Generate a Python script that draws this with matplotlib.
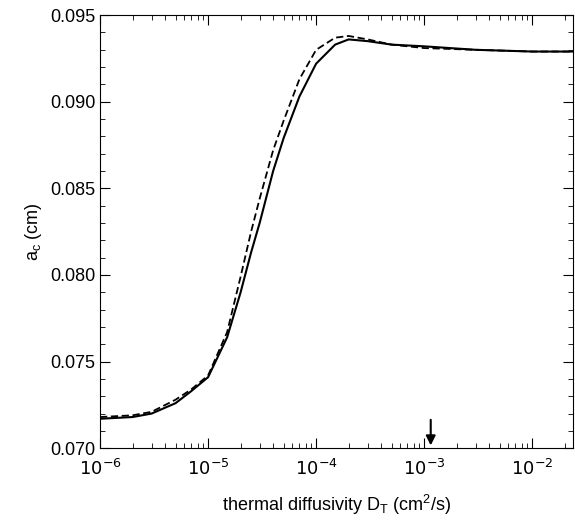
import numpy as np
import matplotlib.pyplot as plt
from matplotlib.ticker import LogLocator, NullFormatter, MultipleLocator, FixedFormatter

plt.rcParams['font.family'] = ['Liberation Sans', 'DejaVu Sans']

# solid curve
d_solid = [1e-6, 2e-6, 3e-6, 5e-6, 7e-6, 1e-5, 1.5e-5, 2e-5, 2.5e-5, 3e-5, 4e-5, 5e-5, 7e-5,
           1e-4, 1.5e-4, 2e-4, 3e-4, 5e-4, 1e-3, 3e-3, 1e-2, 2.5e-2]
a_solid = [0.0717, 0.0718, 0.0720, 0.0726, 0.0733, 0.0741, 0.0764, 0.0790, 0.0813, 0.0830,
           0.0860, 0.0879, 0.0903, 0.0922, 0.0933, 0.0936, 0.0935, 0.0933, 0.0932, 0.0930, 0.0929, 0.0929]
# dashed curve
d_dash = [1e-6, 2e-6, 3e-6, 5e-6, 7e-6, 1e-5, 1.5e-5, 2e-5, 2.5e-5, 3e-5, 4e-5, 5e-5, 7e-5,
          1e-4, 1.5e-4, 2e-4, 3e-4, 5e-4, 1e-3, 3e-3, 1e-2, 2.5e-2]
a_dash = [0.0718, 0.0719, 0.0721, 0.0728, 0.0734, 0.0742, 0.0767, 0.0799, 0.0825, 0.0844,
          0.0872, 0.0889, 0.0913, 0.0930, 0.0937, 0.0938, 0.0936, 0.0933, 0.0931, 0.0930, 0.0929, 0.0929]
arrow_x = 1.15e-3
xtick_vals = [1e-6, 1e-5, 1e-4, 1e-3, 1e-2]
xtick_text = ['$10^{-6}$', '$10^{-5}$', '$10^{-4}$', '$10^{-3}$', '$10^{-2}$']

fig = plt.figure(figsize=(5.75, 5.23), dpi=100)
ax = fig.add_axes([0.174, 0.143, 0.823, 0.828])
ax.plot(d_solid, a_solid, 'k-', lw=1.5)
ax.plot(d_dash, a_dash, 'k--', lw=1.3, dashes=(4, 2))
ax.set_xscale('log')
ax.set_xlim(1e-6, 2.4e-2)
ax.set_ylim(0.070, 0.095)
ax.yaxis.set_major_locator(MultipleLocator(0.005))
ax.yaxis.set_minor_locator(MultipleLocator(0.001))
ax.set_xticks(xtick_vals)
ax.xaxis.set_major_formatter(FixedFormatter(xtick_text))
ax.xaxis.set_minor_locator(LogLocator(subs=np.arange(2, 10)))
ax.xaxis.set_minor_formatter(NullFormatter())
ax.tick_params(which='both', direction='in', top=True, right=True, labelsize=13)
ax.tick_params(axis='x', pad=8)
ax.tick_params(which='major', length=7)
ax.tick_params(which='minor', length=3.5)
ax.set_yticklabels(['%.3f' % v for v in ax.get_yticks()])
ax.set_xlabel('thermal diffusivity D$_\\mathregular{T}$ (cm$^\\mathregular{2}$/s)', fontsize=13, labelpad=10)
ax.set_ylabel('a$_\\mathregular{c}$ (cm)', fontsize=13)
ax.annotate('', xy=(arrow_x, 0.0700), xytext=(arrow_x, 0.0718),
            arrowprops=dict(arrowstyle='-|>', color='k', lw=1.5, mutation_scale=14))
fig.savefig('out.png')
